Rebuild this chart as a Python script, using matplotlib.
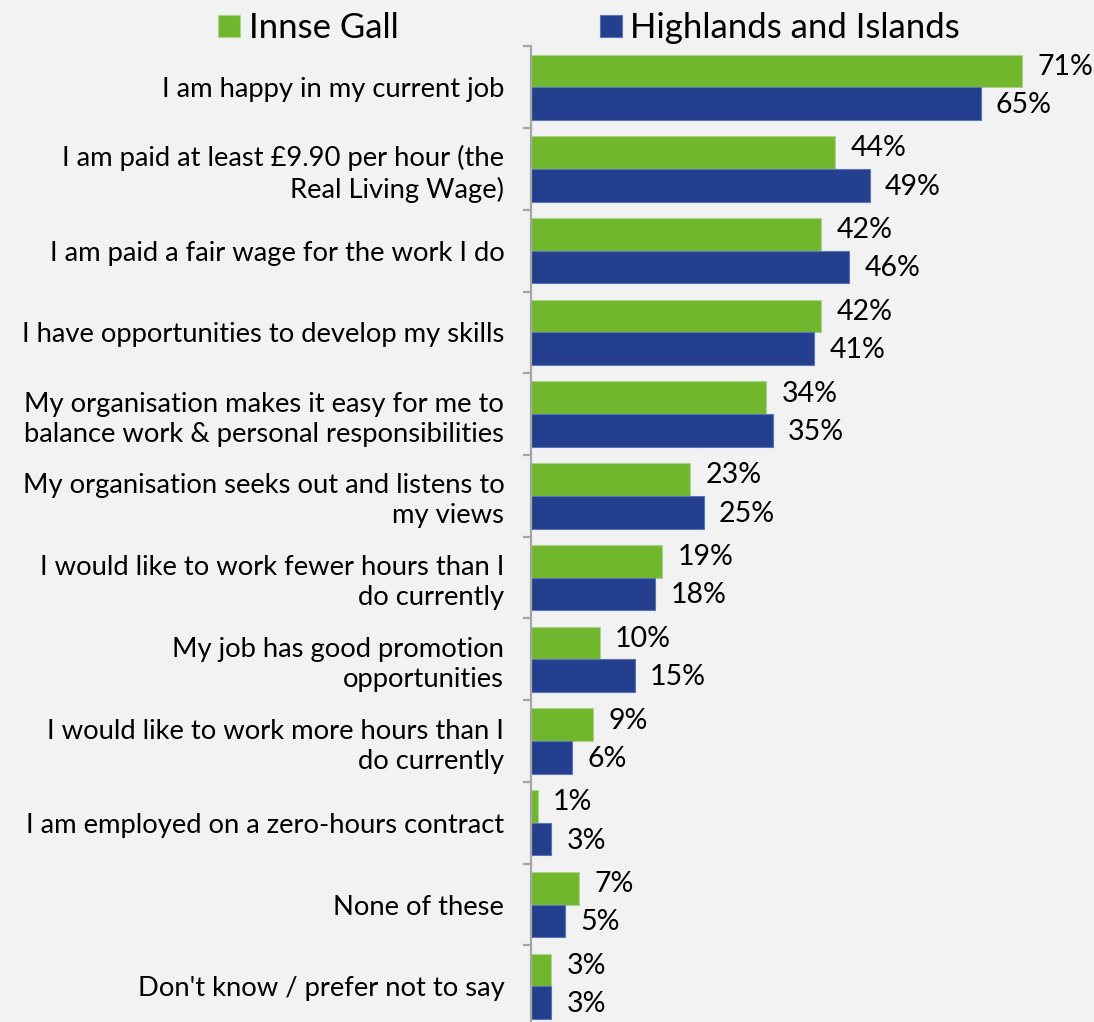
import matplotlib
matplotlib.use("Agg")
import matplotlib.pyplot as plt
import numpy as np

categories = [
    "I am happy in my current job",
    "I am paid at least £9.90 per hour (the\nReal Living Wage)",
    "I am paid a fair wage for the work I do",
    "I have opportunities to develop my skills",
    "My organisation makes it easy for me to\nbalance work & personal responsibilities",
    "My organisation seeks out and listens to\nmy views",
    "I would like to work fewer hours than I\ndo currently",
    "My job has good promotion\nopportunities",
    "I would like to work more hours than I\ndo currently",
    "I am employed on a zero-hours contract",
    "None of these",
    "Don't know / prefer not to say",
]
innse_gall = [71, 44, 42, 42, 34, 23, 19, 10, 9, 1, 7, 3]
highlands = [65, 49, 46, 41, 35, 25, 18, 15, 6, 3, 5, 3]
series_names = ["Innse Gall", "Highlands and Islands"]

GREEN = "#70b72d"
BLUE = "#243f8e"
BG = "#f2f2f2"

plt.rcParams['font.family'] = ['Lato', 'DejaVu Sans']

fig = plt.figure(figsize=(10.94, 10.22), dpi=100, facecolor=BG)
ax = fig.add_axes([0.4851, -0.0050, 0.5149, 0.9596], facecolor=BG)

n = len(categories)
y = np.arange(n)
h = 0.4
b1 = ax.barh(y - h / 2, innse_gall, height=h, color=GREEN, edgecolor="#a9d48a", linewidth=0.8, label=series_names[0])
b2 = ax.barh(y + h / 2, highlands, height=h, color=BLUE, edgecolor="#5a74b8", linewidth=0.8, label=series_names[1])

ax.set_xlim(0, 81.4)
ax.set_ylim(n - 0.5, -0.5)

for rect, v in zip(b1, innse_gall):
    ax.annotate(f"{v}%", (rect.get_width(), rect.get_y() + rect.get_height() / 2),
                xytext=(11, 3), textcoords="offset points", ha="left", va="center", fontsize=20.5)
for rect, v in zip(b2, highlands):
    ax.annotate(f"{v}%", (rect.get_width(), rect.get_y() + rect.get_height() / 2),
                xytext=(11, -1), textcoords="offset points", ha="left", va="center", fontsize=20.5)

# axis styling
for s in ["top", "right", "bottom"]:
    ax.spines[s].set_visible(False)
ax.spines["left"].set_color("#a6a6a6")
ax.spines["left"].set_linewidth(1.6)
ax.set_xticks([])
ax.set_yticks(np.arange(n + 1) - 0.5)
ax.set_yticklabels([])
ax.tick_params(axis="y", which="major", length=6, width=1.6, color="#a6a6a6", direction="out")
ax.set_yticks(y, minor=True)
ax.set_yticklabels(categories, minor=True, fontsize=19.7, ha="right", linespacing=1.25)
ax.tick_params(axis="y", which="minor", length=0, pad=19)

leg = fig.legend(handles=[b1, b2], labels=series_names, loc="upper left", bbox_to_anchor=(0.1993, 0.988),
                 ncol=2, frameon=False, fontsize=25, handlelength=0.63, handleheight=0.63,
                 handletextpad=0.25, columnspacing=5.8, borderpad=0, borderaxespad=0)

fig.savefig("out.png", dpi=100, facecolor=BG)
